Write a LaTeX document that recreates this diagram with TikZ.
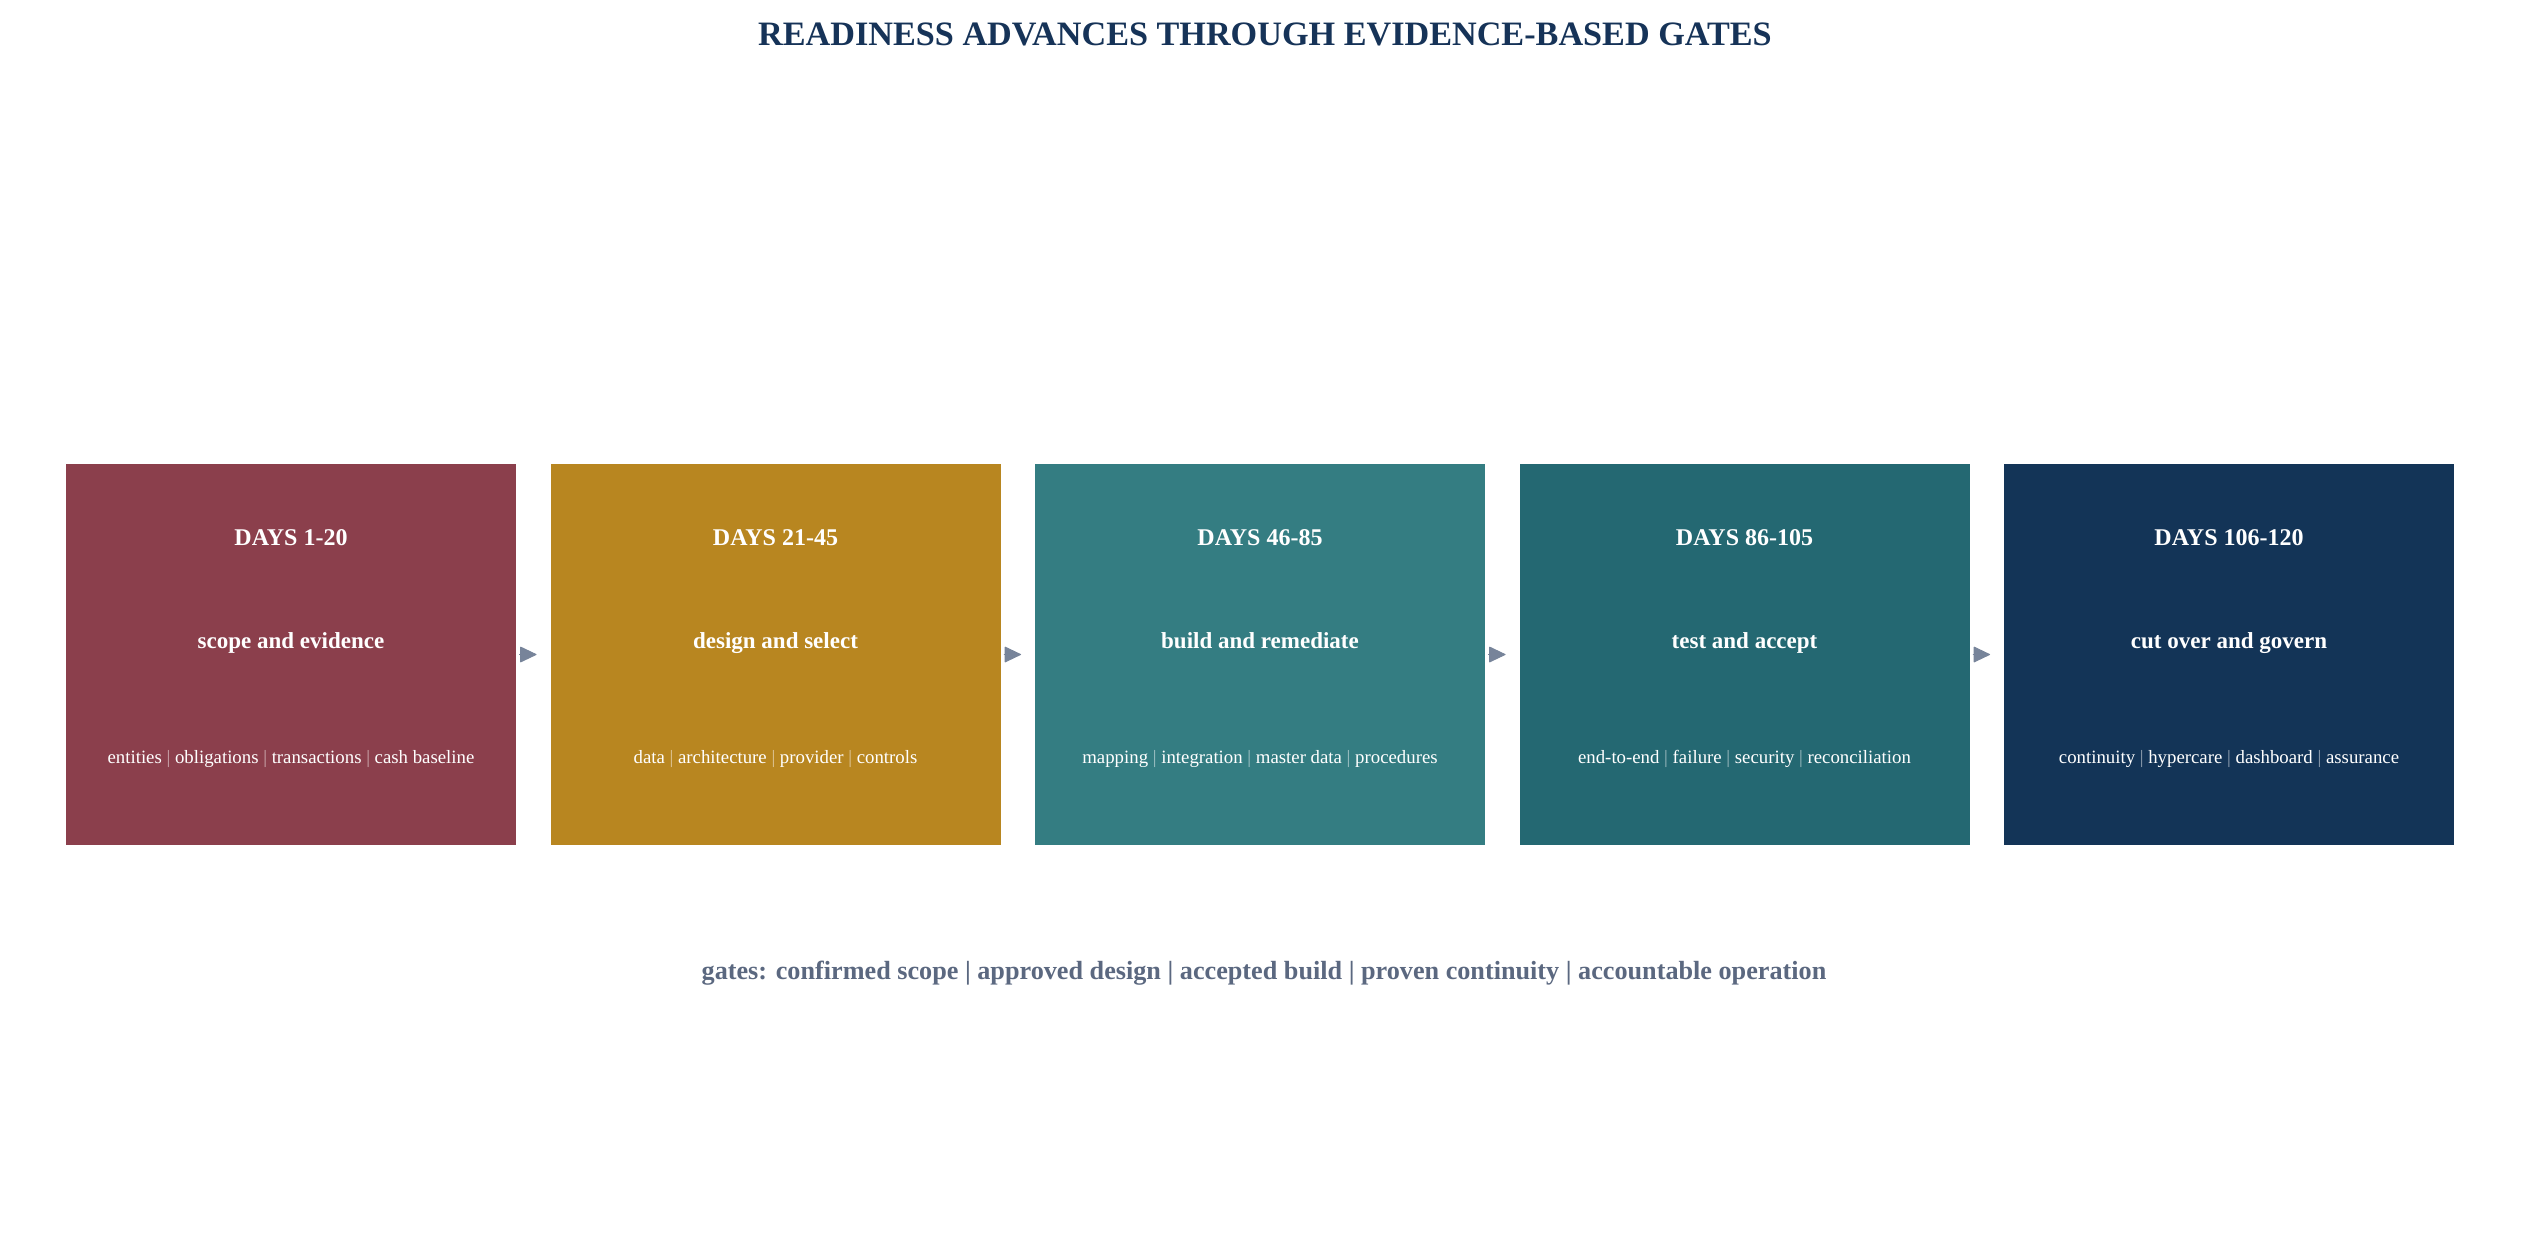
\documentclass[tikz,border=0pt]{standalone}
\usepackage{fontspec}
\setmainfont{Liberation Serif}
\usetikzlibrary{arrows.meta}
\definecolor{cA}{HTML}{8B3F4C}
\definecolor{cB}{HTML}{B88620}
\definecolor{cC}{HTML}{347D82}
\definecolor{cD}{HTML}{246872}
\definecolor{cE}{HTML}{133457}
\definecolor{titlec}{HTML}{163358}
\definecolor{gatec}{HTML}{5B6880}
\definecolor{arrc}{HTML}{77849A}
\newcommand\barsep[1]{ {\color{white!55!#1}|} }
\tikzset{
  phasebox/.style={draw=none,fill=#1,minimum width=450pt,minimum height=381pt,inner sep=0pt,outer sep=0pt},
  daystxt/.style={anchor=base,text=white,font=\fontsize{24}{28}\selectfont\bfseries,inner sep=0pt},
  subtxt/.style={anchor=base,text=white,font=\fontsize{23}{28}\selectfont\bfseries,inner sep=0pt},
  dettxt/.style={anchor=base,text=white,font=\fontsize{18.8}{23}\selectfont,inner sep=0pt},
  flowarrow/.style={draw=arrc,fill=arrc,line width=1pt,shorten <=3pt,shorten >=14pt,
    -{Triangle[length=17pt,width=16pt,round]}},
}
\begin{document}
\begin{tikzpicture}[x=1pt,y=-1pt]
\useasboundingbox (0,0) rectangle (2530,1254);
\fill[white] (0,0) rectangle (2530,1254);
\node[anchor=base,inner sep=0pt,text=titlec,font=\fontsize{34.2}{41}\selectfont\bfseries] (title) at (1265,45) {READINESS ADVANCES THROUGH EVIDENCE-BASED GATES};
% boxes
\node[phasebox=cA] (b1) at (291,654.5) {};
\node[phasebox=cB] (b2) at (775.5,654.5) {};
\node[phasebox=cC] (b3) at (1260,654.5) {};
\node[phasebox=cD] (b4) at (1744.5,654.5) {};
\node[phasebox=cE] (b5) at (2229,654.5) {};
% texts
\node[daystxt] (d1) at (291,545) {DAYS 1-20};
\node[daystxt] (d2) at (775.5,545) {DAYS 21-45};
\node[daystxt] (d3) at (1260,545) {DAYS 46-85};
\node[daystxt] (d4) at (1744.5,545) {DAYS 86-105};
\node[daystxt] (d5) at (2229,545) {DAYS 106-120};
\node[subtxt] (s1) at (291,648) {scope and evidence};
\node[subtxt] (s2) at (775.5,648) {design and select};
\node[subtxt] (s3) at (1260,648) {build and remediate};
\node[subtxt] (s4) at (1744.5,648) {test and accept};
\node[subtxt] (s5) at (2229,648) {cut over and govern};
\node[dettxt] (t1) at (291,763) {entities\barsep{cA}obligations\barsep{cA}transactions\barsep{cA}cash baseline};
\node[dettxt] (t2) at (775.5,763) {data\barsep{cB}architecture\barsep{cB}provider\barsep{cB}controls};
\node[dettxt] (t3) at (1260,763) {mapping\barsep{cC}integration\barsep{cC}master data\barsep{cC}procedures};
\node[dettxt] (t4) at (1744.5,763) {end-to-end\barsep{cD}failure\barsep{cD}security\barsep{cD}reconciliation};
\node[dettxt] (t5) at (2229,763) {continuity\barsep{cE}hypercare\barsep{cE}dashboard\barsep{cE}assurance};
% arrows
\draw[flowarrow] (b1.east) -- (b2.west);
\draw[flowarrow] (b2.east) -- (b3.west);
\draw[flowarrow] (b3.east) -- (b4.west);
\draw[flowarrow] (b4.east) -- (b5.west);
% gates
\node[anchor=base,inner sep=0pt,text=gatec,font=\fontsize{26.2}{31}\selectfont\bfseries] (gates) at (1264,979) {gates: confirmed scope | approved design | accepted build | proven continuity | accountable operation};
\end{tikzpicture}
\end{document}
